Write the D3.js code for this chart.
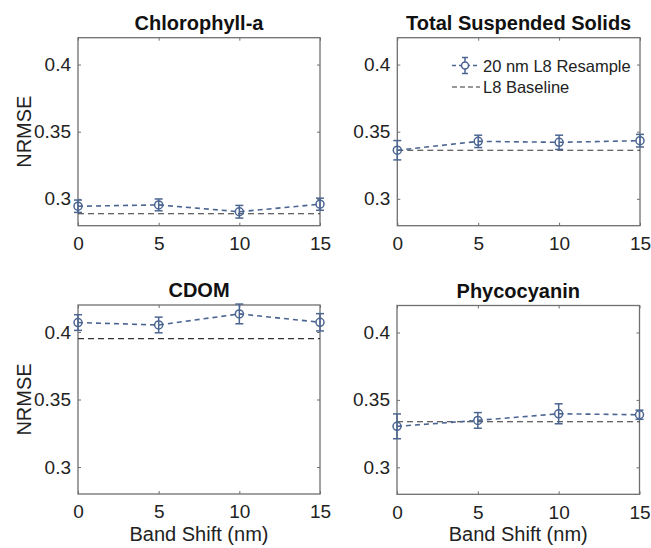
<!DOCTYPE html>
<html><head><meta charset="utf-8">
<script src="https://cdn.jsdelivr.net/npm/d3@7"></script>
<style>body{margin:0;background:#fff;}svg{display:block;font-family:Arial,"Liberation Sans",sans-serif;}</style>
</head><body>
<svg id="chart" width="651" height="548"></svg>
<script>
const shifts = [0, 5, 10, 15];
const titles = ["Chlorophyll-a", "Total Suspended Solids", "CDOM", "Phycocyanin"];
const chlMean = [0.2945, 0.2955, 0.2904, 0.2960];
const chlErr = [0.0046, 0.0044, 0.0047, 0.0045];
const chlBase = 0.2889;
const tssMean = [0.3362, 0.3428, 0.3421, 0.3433];
const tssErr = [0.0072, 0.0046, 0.0053, 0.0047];
const tssBase = 0.3362;
const cdomMean = [0.4070, 0.4052, 0.4134, 0.4072];
const cdomErr = [0.0058, 0.0058, 0.0073, 0.0064];
const cdomBase = 0.3951;
const pcMean = [0.3304, 0.3348, 0.3397, 0.3390];
const pcErr = [0.0092, 0.0058, 0.0074, 0.0034];
const pcBase = 0.3338;
const yTicks = [0.3, 0.35, 0.4];
const xTicks = [0, 5, 10, 15];
const legendLabels = ["20 nm L8 Resample", "L8 Baseline"];

const panels = [
  {title: titles[0], mean: chlMean, err: chlErr, base: chlBase, box: [78, 37.7, 320, 225.7], ylab: true, xlab: false, legend: false},
  {title: titles[1], mean: tssMean, err: tssErr, base: tssBase, box: [397.3, 37.7, 640, 225.7], ylab: false, xlab: false, legend: true},
  {title: titles[2], mean: cdomMean, err: cdomErr, base: cdomBase, box: [78, 305, 320, 494], ylab: true, xlab: true, legend: false},
  {title: titles[3], mean: pcMean, err: pcErr, base: pcBase, box: [397, 305.5, 639.5, 494.3], ylab: false, xlab: true, legend: false}
];

const svg = d3.select("#chart");
const blue = "#4b6592";
const boxCol = "#6f6f6f";

panels.forEach(p => {
  const [x0, y0, x1, y1] = p.box;
  const x = d3.scaleLinear().domain([0, 15]).range([x0, x1]);
  const y = d3.scaleLinear().domain([0.28, 0.42]).range([y1, y0]);
  const g = svg.append("g");

  const ax = g.append("g").attr("transform", `translate(0,${y1})`)
    .call(d3.axisBottom(x).tickValues(xTicks).tickFormat(d3.format("d")).tickSizeInner(-3).tickSizeOuter(0).tickPadding(11));
  const ay = g.append("g").attr("transform", `translate(${x0},0)`)
    .call(d3.axisLeft(y).tickValues(yTicks).tickFormat(d => String(d)).tickSizeInner(-3).tickSizeOuter(0).tickPadding(7));
  const ayr = g.append("g").attr("transform", `translate(${x1},0)`)
    .call(d3.axisRight(y).tickValues(yTicks).tickFormat("").tickSizeInner(-3).tickSizeOuter(0));
  const axt = g.append("g").attr("transform", `translate(0,${y0})`)
    .call(d3.axisTop(x).tickValues(xTicks).tickFormat("").tickSizeInner(-3).tickSizeOuter(0));
  [ax, ay, ayr, axt].forEach(a => {
    a.select(".domain").remove();
    a.selectAll("line").attr("stroke", boxCol).attr("stroke-width", 1);
    a.selectAll("text").attr("font-size", 19).attr("fill", "#222").attr("font-family", "Arial, 'Liberation Sans', sans-serif");
  });
  ax.selectAll("text").attr("dy", "0.71em");

  g.append("rect").attr("x", x0).attr("y", y0).attr("width", x1 - x0).attr("height", y1 - y0)
    .attr("fill", "none").attr("stroke", boxCol).attr("stroke-width", 1.3);

  g.append("text").attr("x", (x0 + x1) / 2).attr("y", y0 - 8).attr("text-anchor", "middle")
    .attr("font-size", 20).attr("font-weight", "bold").attr("fill", "#111").text(p.title);

  if (p.ylab) {
    g.append("text").attr("transform", `translate(${23.5},${(y0 + y1) / 2}) rotate(-90)`)
      .attr("text-anchor", "middle").attr("dominant-baseline", "central").attr("font-size", 20).attr("fill", "#222").text("NRMSE");
  }
  if (p.xlab) {
    g.append("text").attr("x", (x0 + x1) / 2).attr("y", 541).attr("text-anchor", "middle")
      .attr("font-size", 20).attr("fill", "#222").text("Band Shift (nm)");
  }

  g.append("line").attr("x1", x(0)).attr("x2", x(15)).attr("y1", y(p.base)).attr("y2", y(p.base))
    .attr("stroke", "#333").attr("stroke-width", 1.2).attr("stroke-dasharray", "6,4");

  const data = shifts.map((s, i) => ({s, m: p.mean[i], e: p.err[i]}));
  g.append("path").datum(data)
    .attr("d", d3.line().x(d => x(d.s)).y(d => y(d.m)))
    .attr("fill", "none").attr("stroke", blue).attr("stroke-width", 1.6).attr("stroke-dasharray", "5,4");

  const eb = g.selectAll(".eb").data(data).enter().append("g");
  eb.append("line").attr("x1", d => x(d.s)).attr("x2", d => x(d.s))
    .attr("y1", d => y(d.m - d.e)).attr("y2", d => y(d.m + d.e)).attr("stroke", blue).attr("stroke-width", 1.5);
  eb.append("line").attr("x1", d => x(d.s) - 4).attr("x2", d => x(d.s) + 4)
    .attr("y1", d => y(d.m - d.e)).attr("y2", d => y(d.m - d.e)).attr("stroke", blue).attr("stroke-width", 1.5);
  eb.append("line").attr("x1", d => x(d.s) - 4).attr("x2", d => x(d.s) + 4)
    .attr("y1", d => y(d.m + d.e)).attr("y2", d => y(d.m + d.e)).attr("stroke", blue).attr("stroke-width", 1.5);
  eb.append("circle").attr("cx", d => x(d.s)).attr("cy", d => y(d.m)).attr("r", 4)
    .attr("fill", "none").attr("stroke", blue).attr("stroke-width", 1.5);

  if (p.legend) {
    const lx = 452, ly1 = 65.5, ly2 = 87;
    const L = g.append("g");
    L.append("line").attr("x1", lx).attr("x2", lx + 26).attr("y1", ly1).attr("y2", ly1)
      .attr("stroke", blue).attr("stroke-width", 1.5).attr("stroke-dasharray", "4,3");
    L.append("line").attr("x1", lx + 13).attr("x2", lx + 13).attr("y1", ly1 - 8).attr("y2", ly1 + 8).attr("stroke", blue).attr("stroke-width", 1.5);
    L.append("line").attr("x1", lx + 10).attr("x2", lx + 16).attr("y1", ly1 - 8).attr("y2", ly1 - 8).attr("stroke", blue).attr("stroke-width", 1.5);
    L.append("line").attr("x1", lx + 10).attr("x2", lx + 16).attr("y1", ly1 + 8).attr("y2", ly1 + 8).attr("stroke", blue).attr("stroke-width", 1.5);
    L.append("circle").attr("cx", lx + 13).attr("cy", ly1).attr("r", 3.5).attr("fill", "#fff").attr("stroke", blue).attr("stroke-width", 1.5);
    L.append("line").attr("x1", lx).attr("x2", lx + 28).attr("y1", ly2).attr("y2", ly2)
      .attr("stroke", "#333").attr("stroke-width", 1.1).attr("stroke-dasharray", "5,3");
    L.append("text").attr("x", lx + 31).attr("y", ly1).attr("dominant-baseline", "central").attr("font-size", 16.5).attr("fill", "#222").text(legendLabels[0]);
    L.append("text").attr("x", lx + 31).attr("y", ly2).attr("dominant-baseline", "central").attr("font-size", 16.5).attr("fill", "#222").text(legendLabels[1]);
  }
});
</script>
</body></html>
